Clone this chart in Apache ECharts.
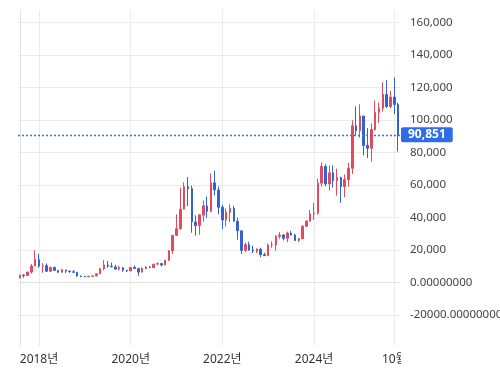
<!DOCTYPE html>
<html><head><meta charset="utf-8">
<script src="https://cdn.jsdelivr.net/npm/echarts@6/dist/echarts.min.js"></script>
<style>html,body{margin:0;padding:0;background:#fff}#c{width:500px;height:387px}</style>
</head><body><div id="c"></div>
<script>
const months = [
 '2017-08','2017-09','2017-10','2017-11','2017-12',
 '2018-01','2018-02','2018-03','2018-04','2018-05','2018-06','2018-07','2018-08','2018-09','2018-10','2018-11','2018-12',
 '2019-01','2019-02','2019-03','2019-04','2019-05','2019-06','2019-07','2019-08','2019-09','2019-10','2019-11','2019-12',
 '2020-01','2020-02','2020-03','2020-04','2020-05','2020-06','2020-07','2020-08','2020-09','2020-10','2020-11','2020-12',
 '2021-01','2021-02','2021-03','2021-04','2021-05','2021-06','2021-07','2021-08','2021-09','2021-10','2021-11','2021-12',
 '2022-01','2022-02','2022-03','2022-04','2022-05','2022-06','2022-07','2022-08','2022-09','2022-10','2022-11','2022-12',
 '2023-01','2023-02','2023-03','2023-04','2023-05','2023-06','2023-07','2023-08','2023-09','2023-10','2023-11','2023-12',
 '2024-01','2024-02','2024-03','2024-04','2024-05','2024-06','2024-07','2024-08','2024-09','2024-10','2024-11','2024-12',
 '2025-01','2025-02','2025-03','2025-04','2025-05','2025-06','2025-07','2025-08','2025-09','2025-10','2025-11'
];
const open = [
 2870,4700,4340,6440,10200,
 14110,10240,10390,6970,9250,7500,6410,7770,7040,6620,6320,4030,
 3750,3460,3850,4110,5350,8570,10800,10080,9630,8300,9190,7570,
 7190,9350,8600,6440,8670,9460,9150,11320,11680,10800,13780,19630,
 29000,33120,45160,58930,57720,37290,35040,41460,47100,43820,61320,56910,
 46310,38480,43190,45550,37710,31790,19820,23340,20050,19430,20500,17170,
 16550,23130,23150,28480,29270,27220,30480,29230,25940,26960,34640,37720,
 42280,42580,61130,71330,60640,67490,62680,64620,58970,63300,70290,96410,
 93430,102430,84350,82550,94170,104640,107140,115760,108250,114050,109560
];
const close = [
 4700,4340,6470,10230,14160,
 10220,10400,6970,9240,7490,6400,7780,7040,6630,6320,4020,3740,
 3460,3850,4110,5350,8570,10820,10090,9630,8290,9200,7570,7190,
 9350,8600,6440,8660,9460,9140,11320,11680,10790,13780,19630,29000,
 33120,45140,58920,57750,37330,35040,41630,47170,43790,61320,57010,46310,
 38480,43190,45540,37710,31790,19790,23340,20050,19430,20500,17170,16550,
 23130,23150,28480,29270,27220,30480,29230,25940,26960,34640,37720,42280,
 42580,61130,71330,60640,67490,62680,64620,58970,63300,70290,96410,93430,
 102430,84350,82550,94170,104640,107140,115760,108250,114050,109560,90851
];
const low = [
 2580,2970,4110,5520,10130,
 9040,6050,6600,6530,7090,5830,6130,5880,6110,6210,3650,3190,
 3400,3400,3730,4100,5350,7560,9160,9420,7830,7450,6620,6440,
 6910,8470,4110,6200,8130,8980,8980,11000,9910,10550,13240,17650,
 28720,32390,44960,47050,30680,28810,29360,37460,39790,43320,53570,42000,
 32950,34460,37260,37700,26350,17620,18780,19600,18150,18190,15600,16330,
 16500,21410,19600,26940,25870,24800,28930,25410,24900,26560,34100,37600,
 38560,41880,59010,59190,56560,58400,53490,49000,52550,58950,66800,90500,
 89160,78260,76560,74430,93370,98200,105100,107350,107270,103530,80600
];
const high = [
 4770,4980,6470,11520,19780,
 17710,11960,11710,9750,9960,7750,8420,7770,7390,7680,6550,4310,
 4110,4210,4300,5640,9070,13800,13180,12270,10900,10370,9510,7740,
 9550,10500,9190,9440,10070,10200,11440,12360,12070,14030,19750,29240,
 41950,58330,61680,64860,59520,41330,42200,50480,52850,66930,68790,59040,
 47920,45660,48090,47310,39900,31960,24570,25140,22670,21020,21450,18320,
 23920,25250,29180,31000,29820,31390,31800,30000,27490,35200,38450,44700,
 48970,64000,73780,72800,71980,72000,70020,65110,66500,73620,99800,108350,
 109590,102500,95000,97900,111980,110530,123220,124460,117900,126200,110600
];
const tickMonths = ['2018-01','2020-01','2022-01','2024-01','2025-10'];
const tickLabels = ['2018년','2020년','2022년','2024년','10월'];
const yTicks = [-20000,0,20000,40000,60000,80000,100000,120000,140000,160000];

const lastPrice = close[close.length - 1];
const candles = months.map((m, i) => [i, open[i], close[i], low[i], high[i]]);
const xTickIdx = tickMonths.map(m => months.indexOf(m));
const FONT = '"Noto Sans", "Noto Sans CJK KR", sans-serif';
const UP = '#e34a5e', DOWN = '#3462d2';

const chart = echarts.init(document.getElementById('c'), null, {renderer: 'canvas'});
chart.setOption({
  animation: false,
  grid: {left: 18, right: 100, top: 10, bottom: 41, containLabel: false, outerBoundsMode: 'none'},
  graphic: [{type: 'rect', left: 401, top: 349, z: 100, silent: true,
    shape: {width: 8, height: 22}, style: {fill: '#fff'}}],
  xAxis: {
    type: 'value', min: -0.5, max: 99.5,
    axisLine: {show: true, lineStyle: {color: '#e2e2e2'}},
    axisTick: {show: false, customValues: xTickIdx},
    axisLabel: {customValues: xTickIdx, formatter: v => tickLabels[xTickIdx.indexOf(v)] || '',
      color: '#333', fontSize: 12, margin: 8, fontFamily: FONT},
    splitLine: {show: true, lineStyle: {color: '#ebebeb'}}
  },
  yAxis: {
    type: 'value', position: 'right', min: -39000, max: 167600,
    axisLine: {show: true, lineStyle: {color: '#e2e2e2'}},
    axisTick: {show: false, customValues: yTicks},
    axisLabel: {customValues: yTicks, margin: 10, color: '#444', fontSize: 11.5, fontFamily: FONT,
      formatter: v => v >= 20000 ? v.toLocaleString('en-US') : v.toFixed(8)},
    splitLine: {show: true, lineStyle: {color: '#ebebeb'}}
  },
  series: [{
    type: 'candlestick',
    data: candles,
    barWidth: 2,
    itemStyle: {color: UP, color0: DOWN, borderColor: UP, borderColor0: DOWN, borderWidth: 1},
    markLine: {
      silent: true, symbol: ['none', 'none'], animation: false,
      itemStyle: {color: '#3d6fd8'},
      lineStyle: {color: '#3d6fd8', type: [2, 2], width: 1.3},
      label: {position: 'end', distance: 1, formatter: () => lastPrice.toLocaleString('en-US'),
        color: '#fff', backgroundColor: '#2f6de8', padding: [2, 7, 1, 7], borderRadius: 2,
        fontSize: 12, fontWeight: 'bold', fontFamily: FONT},
      emphasis: {disabled: true},
      data: [{yAxis: lastPrice}]
    }
  }]
});
</script></body></html>
